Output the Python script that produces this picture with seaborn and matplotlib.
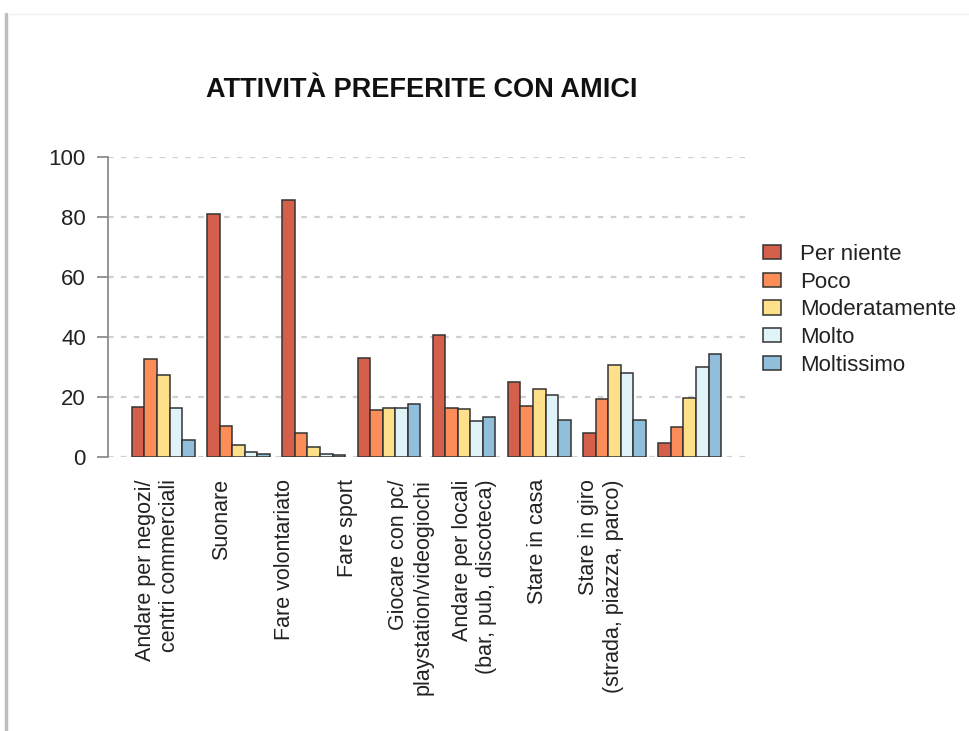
import numpy as np
import pandas as pd
import matplotlib.pyplot as plt
import seaborn as sns
from matplotlib.lines import Line2D

# Data (percent)
attivita = ['Andare per negozi/\ncentri commerciali', 'Suonare', 'Fare volontariato', 'Fare sport',
            'Giocare con pc/\nplaystation/videogiochi', 'Andare per locali\n(bar, pub, discoteca)',
            'Stare in casa', 'Stare in giro\n(strada, piazza, parco)']
livelli = ['Per niente', 'Poco', 'Moderatamente', 'Molto', 'Moltissimo']
per_niente = [16.7, 80.9, 85.8, 33.0, 40.8, 25.1, 7.9, 4.6]
poco = [32.8, 10.3, 8.1, 15.8, 16.4, 17.0, 19.3, 9.9]
moderatamente = [27.2, 4.1, 3.3, 16.3, 15.9, 22.8, 30.8, 19.6]
molto = [16.3, 1.7, 1.0, 16.3, 11.9, 20.8, 28.0, 29.9]
moltissimo = [5.6, 1.0, 0.8, 17.7, 13.3, 12.5, 12.4, 34.2]
colori = ['#D45F4A', '#FC8D59', '#FEE08B', '#E0F3F8', '#91BFDB']

serie = [per_niente, poco, moderatamente, molto, moltissimo]
df = pd.DataFrame([
    {'attivita': a, 'livello': liv, 'valore': v}
    for liv, vals in zip(livelli, serie)
    for a, v in zip(attivita, vals)
])

sns.set_theme(style='white')
plt.rcParams['font.family'] = ['Liberation Sans', 'DejaVu Sans']

fig = plt.figure(figsize=(9.7, 7.31), dpi=100)
ax = fig.add_axes([108 / 970, 274 / 731, 637 / 970, 300 / 731])

sns.barplot(data=df, x='attivita', y='valore', hue='livello', order=attivita,
            hue_order=livelli, palette=colori, width=0.834, saturation=1,
            edgecolor='#333333', linewidth=1.1, errorbar=None, ax=ax)

ax.set_xlim(-0.735, 7.735)
ax.set_ylim(0, 100)
ax.set_yticks(np.arange(0, 101, 20))
ax.yaxis.grid(True, linestyle=(0, (2.5, 3.3)), color='#d0d0d0', linewidth=1.6)
ax.set_axisbelow(True)
for s in ['top', 'right', 'bottom']:
    ax.spines[s].set_visible(False)
ax.spines['left'].set_color('#8c8c8c')
ax.spines['left'].set_linewidth(1.3)
ax.tick_params(axis='y', length=8, width=1.3, color='#8c8c8c', pad=8,
               labelsize=16, labelcolor='#222222', left=True)

# labels sit slightly off the group centres, as in the original
label_pos = -0.073 + np.arange(len(attivita)) * 0.842
ax.set_xticks(label_pos)
ax.set_xticklabels(attivita, rotation=90, multialignment='right', fontsize=15.5, color='#222222')
ax.tick_params(axis='x', length=0, pad=16)
ax.set_xlabel('')
ax.set_ylabel('')

handles, labels = ax.get_legend_handles_labels()
ax.legend(handles, labels, loc='upper left', bbox_to_anchor=(763 / 970, 1 - 244 / 731),
          bbox_transform=fig.transFigure, frameon=False, fontsize=16, borderpad=0,
          borderaxespad=0, handlelength=0.8, handleheight=0.6, handletextpad=0.85,
          labelspacing=0.3, labelcolor='#222222')

fig.text(422 / 970, 1 - 90 / 731, 'ATTIVITÀ PREFERITE CON AMICI', ha='center', va='center',
         fontsize=19.5, fontweight='bold', color='#111111')

# screenshot frame
fig.add_artist(Line2D([6 / 970, 6 / 970], [0, 1 - 14 / 731], color='#bdbdbd', lw=2.5,
                      transform=fig.transFigure))
fig.add_artist(Line2D([8 / 970, 1], [1 - 14 / 731, 1 - 14 / 731], color='#f0f0f0', lw=1,
                      transform=fig.transFigure))

fig.savefig('out.png', dpi=100)
